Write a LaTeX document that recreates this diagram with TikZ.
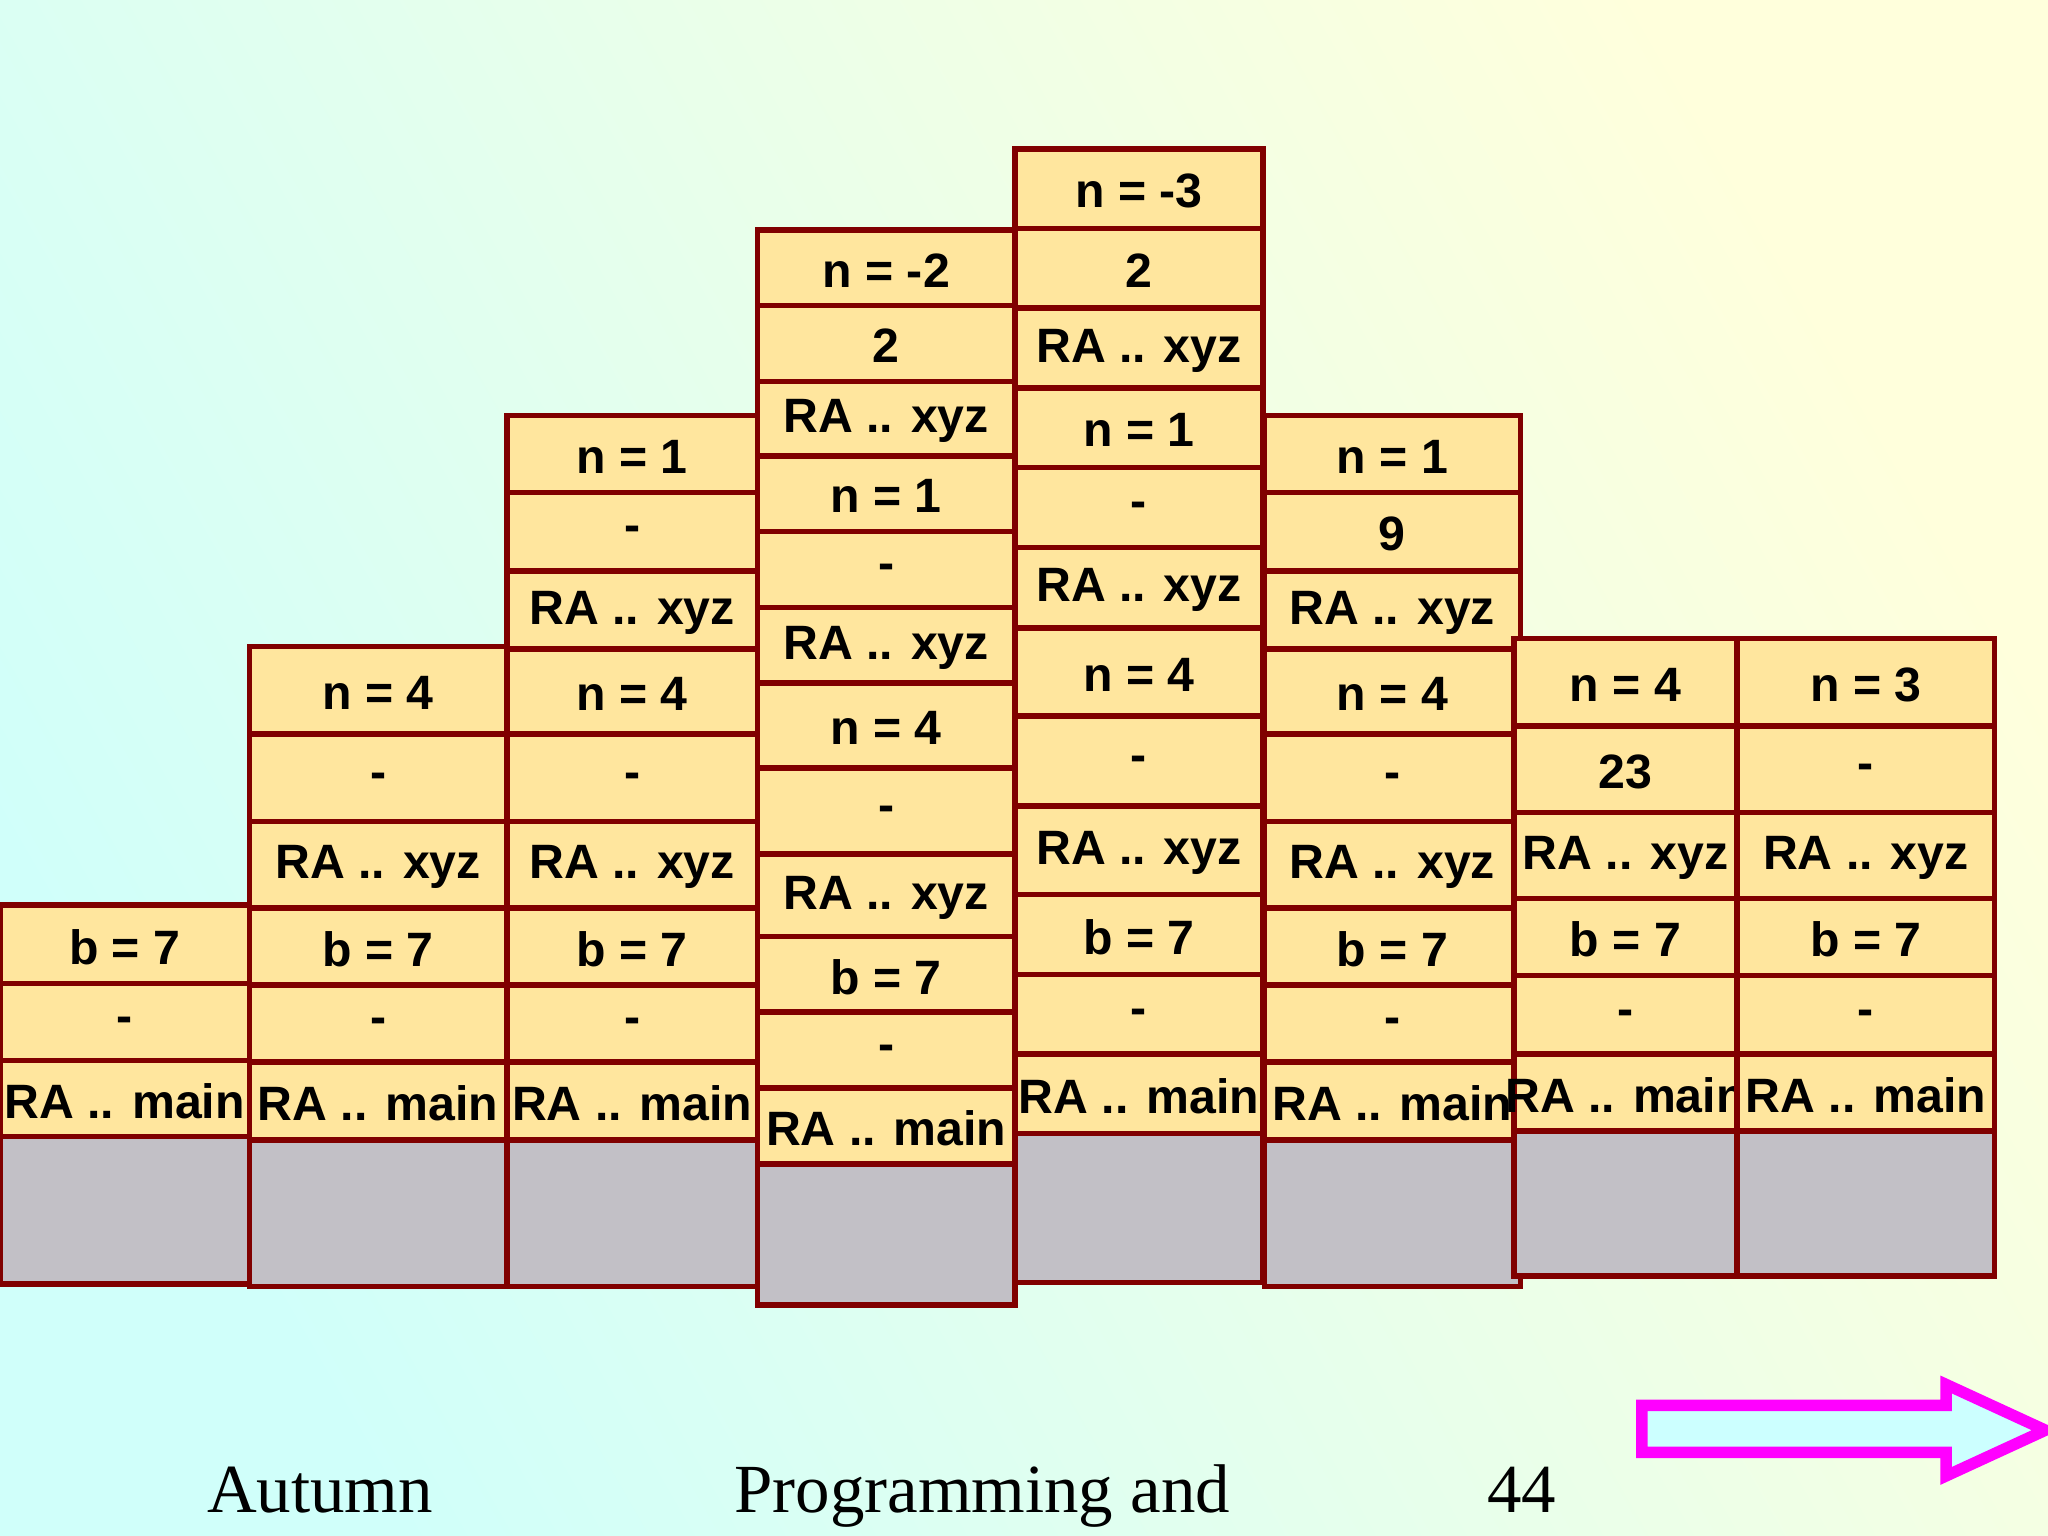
\documentclass[tikz,border=0pt]{standalone}
\usepackage{fontspec}
\setmainfont{Liberation Serif}
\setsansfont{Liberation Sans}
\begin{document}
\begin{tikzpicture}[x=0.01cm,y=-0.01cm,
  cellst/.style={draw=red!50!black,line width=1.2pt,fill=cellfill},
  grayst/.style={draw=red!50!black,line width=1.2pt,fill=cellgray},
  txt/.style={font=\sffamily\bfseries\fontsize{10.5}{12}\selectfont,text=black,inner sep=0pt},
  foot/.style={font=\rmfamily\fontsize{15}{18}\selectfont,anchor=base}]
\definecolor{cellfill}{HTML}{FFE69E}
\definecolor{cellgray}{HTML}{C2C0C6}
\definecolor{bgA}{HTML}{D0FFFA}
\definecolor{bgB}{HTML}{FFFFDC}
\definecolor{mag}{HTML}{FF00FF}
\definecolor{arrfill}{HTML}{CCFFFF}
\useasboundingbox (0,0) rectangle (1568,1176);
\shade[left color=bgA,right color=bgB,shading angle=120] (0,0) rectangle (1568,1176);
\newcommand\stackcol[5]{%
  \draw[grayst] (#1,#3) rectangle (#2,#4);
  \foreach \a/\b/\t in {#5} {\draw[cellst] (#1,\a) rectangle (#2,\b);
    \node[txt] at ({(#1+#2)/2},{(\a+\b)/2+2}) {\t};}}
\stackcol{0}{191}{870}{983}{693/753/b = 7,753/812/-,812/870/RA .. main}
\stackcol{191}{388}{873}{985}{495/562/n = 4,562/629/-,629/695/RA .. xyz,695/754/b = 7,754/813/-,813/873/RA .. main}
\stackcol{388}{580}{873}{985}{318/377/n = 1,377/437/-,437/497/RA .. xyz,497/562/n = 4,562/629/-,629/695/RA .. xyz,695/754/b = 7,754/813/-,813/873/RA .. main}
\stackcol{580}{777}{891}{999}{176/234/n = -2,234/292/2,292/349/RA .. xyz,349/407/n = 1,407/465/-,465/523/RA .. xyz,523/588/n = 4,588/654/-,654/717/RA .. xyz,717/775/b = 7,775/833/-,833/891/RA .. main}
\stackcol{777}{967}{868}{982}{114/175/n = -3,175/236/2,236/297/RA .. xyz,297/358/n = 1,358/419/-,419/481/RA .. xyz,481/548/n = 4,548/617/-,617/685/RA .. xyz,685/746/b = 7,746/807/-,807/868/RA .. main}
\stackcol{968}{1164}{873}{985}{318/377/n = 1,377/437/9,437/497/RA .. xyz,497/562/n = 4,562/629/-,629/695/RA .. xyz,695/754/b = 7,754/813/-,813/873/RA .. main}
\stackcol{1159}{1330}{866}{977}{489/556/n = 4,556/622/23,622/688/RA .. xyz,688/747/b = 7,747/807/-,807/866/RA .. main}
\stackcol{1330}{1527}{866}{977}{489/556/n = 3,556/622/-,622/688/RA .. xyz,688/747/b = 7,747/807/-,807/866/RA .. main}
\draw[mag,line width=2.5pt,fill=arrfill] (1257,1076) -- (1490,1076) -- (1490,1060) -- (1566,1095) -- (1490,1130) -- (1490,1112) -- (1257,1112) -- cycle;
\node[foot] (f1) at (245,1158) {Autumn};
\node[foot] (f2) at (752,1158) {Programming and};
\node[foot] (f3) at (1165,1158) {44};
\end{tikzpicture}
\end{document}
